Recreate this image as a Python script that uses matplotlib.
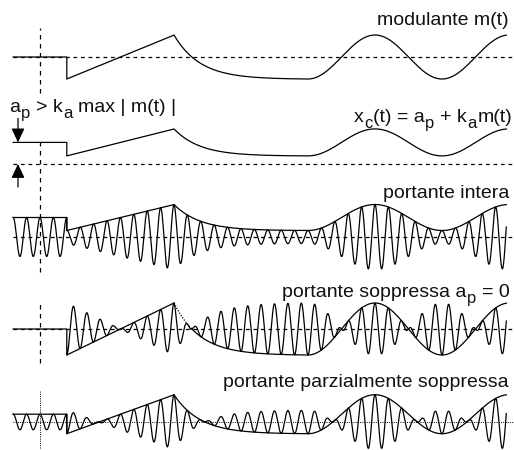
import numpy as np
import matplotlib
matplotlib.use("Agg")
import matplotlib.pyplot as plt
from matplotlib.transforms import IdentityTransform

plt.rcParams['font.family'] = ['Liberation Sans', 'DejaVu Sans']

# ---------------- data (signal definition, time in carrier periods) -------------
t_start = -2.0          # beginning of the traces
t_step = 2.0            # m(t) jumps from 0 to -1
t_ramp_end = 10.0       # linear ramp reaches +1
t_decay_end = 20.0      # exponential decay reaches -1
t_end = 34.8            # end of traces
m_ramp_levels = [-1.0, 1.0]
decay_tau = 1.94
sine_period = 10.0
carrier_period = 1.0

a_p_xc = 1.6            # panel 2 offset
a_p_full = 1.5          # portante intera
a_p_zero = 0.0          # portante soppressa
a_p_part = 0.4          # portante parzialmente soppressa

# text pieces: (string, is_subscript); None = word gap
title_1 = [("modulante m(t)", False)]
title_2 = [("x", False), ("c", True), ("(t) = a", False), ("p", True), None,
           ("+ k", False), ("a", True), ("m(t)", False)]
title_3 = [("portante intera", False)]
title_4 = [("portante soppressa a", False), ("p", True), None, ("= 0", False)]
title_5 = [("portante parzialmente soppressa", False)]
cond_label = [("a", False), ("p", True), None, ("> k", False), ("a", True), None,
              ("max | m(t) |", False)]

# ---------------- layout ----------------
W, H = 514, 450
PX_T0 = 40.0
PX_PER_T = 13.4
base_px = [57, 164, 237, 329, 422]
scale_px = [22, 13.5, 13, 26, 19.5]
title_baseline_px = [25, 122, 198, 297, 387]
FS = 14
LW = 0.9


def m_of_t(t):
    t = np.asarray(t, dtype=float)
    m = np.zeros_like(t)
    r = (t >= t_step) & (t < t_ramp_end)
    m[r] = m_ramp_levels[0] + (m_ramp_levels[1] - m_ramp_levels[0]) * (t[r] - t_step) / (t_ramp_end - t_step)
    d = (t >= t_ramp_end) & (t < t_decay_end)
    e_end = np.exp(-(t_decay_end - t_ramp_end) / decay_tau)
    m[d] = -1 + 2 * (np.exp(-(t[d] - t_ramp_end) / decay_tau) - e_end) / (1 - e_end)
    s = t >= t_decay_end
    m[s] = -np.cos(2 * np.pi * (t[s] - t_decay_end) / sine_period)
    return m


fig = plt.figure(figsize=(W / 100, H / 100), dpi=100)
renderer = fig.canvas.get_renderer()


def rich_text(x_px, y_base_px, pieces, ha='right', size=FS):
    px_per_pt = 100 / 72
    gap = 0.278 * size * px_per_pt
    objs = []
    for p in pieces:
        if p is None:
            objs.append((None, gap, False))
            continue
        s, sub = p
        fs = size * 0.85 if sub else size
        txt = fig.text(0, 0, s, fontsize=fs, va='baseline', ha='left', color='#111111',
                       transform=IdentityTransform())
        w = txt.get_window_extent(renderer).width
        objs.append((txt, w, sub))
    total = sum(w for _, w, _ in objs)
    cur = x_px - total if ha == 'right' else x_px
    for txt, w, sub in objs:
        if txt is not None:
            dy = -0.3 * size * px_per_pt if sub else 0
            txt.set_position((cur, H - y_base_px + dy))
        cur += w + (0.5 if txt is not None else 0)


def make_ax(base, scale):
    ax = fig.add_axes([0, 0, 1, 1])
    ax.set_xlim((0 - PX_T0) / PX_PER_T, (W - PX_T0) / PX_PER_T)
    ax.set_ylim((base - H) / scale, base / scale)
    ax.axis('off')
    ax.patch.set_alpha(0)
    return ax


axes = [make_ax(b, s) for b, s in zip(base_px, scale_px)]

t = np.linspace(t_start, t_end, 30000)
t = np.sort(np.concatenate([t, [t_step - 1e-9, t_step]]))
m = m_of_t(t)
carrier = np.cos(2 * np.pi * t / carrier_period)
xmin_frac = ((t_start * PX_PER_T) + PX_T0) / W

dash_a = (0, (3.0, 3.0))
dash_v = (0, (3.6, 3.6))
dot_f = (0, (1, 1.3))

# panel 1: modulating signal
ax = axes[0]
ax.axhline(0, xmin=xmin_frac, xmax=1, color='k', lw=LW, ls=dash_a)
ax.plot(t, m, color='k', lw=LW)

# panel 2: x_c = a_p + k_a m
ax = axes[1]
ax.axhline(0, xmin=xmin_frac, xmax=1, color='k', lw=LW, ls=dash_a)
ax.plot(t, a_p_xc + m, color='k', lw=LW)
t_arrow = (18 - PX_T0) / PX_PER_T
astyle = dict(arrowstyle='-|>,head_length=0.85,head_width=0.4', color='k', lw=LW,
              shrinkA=0, shrinkB=0)
ax.annotate('', xy=(t_arrow, a_p_xc), xytext=(t_arrow, a_p_xc + 24 / scale_px[1]), arrowprops=astyle)
ax.annotate('', xy=(t_arrow, 0), xytext=(t_arrow, -23 / scale_px[1]), arrowprops=astyle)

# panel 3: full carrier
ax = axes[2]
ax.axhline(0, xmin=xmin_frac, xmax=1, color='k', lw=LW, ls=dash_a)
ax.plot(t, (a_p_full + m) * carrier, color='k', lw=LW)
ax.plot(t, a_p_full + m, color='k', lw=LW)

# panel 4: suppressed carrier
ax = axes[3]
ax.axhline(0, xmin=xmin_frac, xmax=1, color='k', lw=LW, ls=dash_a)
ax.plot(t, (a_p_zero + m) * carrier, color='k', lw=LW)
t_dot_end = 11.3
seg1 = (t >= t_step) & (t <= t_ramp_end)
seg2 = (t >= t_ramp_end) & (t <= t_dot_end)
seg3 = t >= t_dot_end
ax.plot(t[seg1], m[seg1], color='k', lw=LW)
ax.plot(t[seg2], m[seg2], color='k', lw=LW, ls=(0, (1, 1.2)))
ax.plot(t[seg3], m[seg3], color='k', lw=LW)

# panel 5: partially suppressed carrier
ax = axes[4]
ax.axhline(0, xmin=xmin_frac, xmax=1, color='k', lw=0.7, ls=dot_f)
ax.plot(t, (a_p_part + m) * carrier, color='k', lw=LW)
ax.plot(t, a_p_part + m, color='k', lw=LW)

# vertical reference lines at t = 0
for (top, bot, style, lw) in [(28, 93, dash_v, LW), (137, 272, dash_v, LW),
                              (302, 363, dash_v, LW), (390, 448, dot_f, 0.7)]:
    axes[0].axvline(0, ymin=1 - bot / H, ymax=1 - top / H, color='k', lw=lw, ls=style)

# texts
for pieces, yb in zip([title_1, title_2, title_3, title_4, title_5], title_baseline_px):
    rich_text(509, yb, pieces, ha='right')
rich_text(9, 112, cond_label, ha='left')

fig.savefig('out.png', dpi=100)
